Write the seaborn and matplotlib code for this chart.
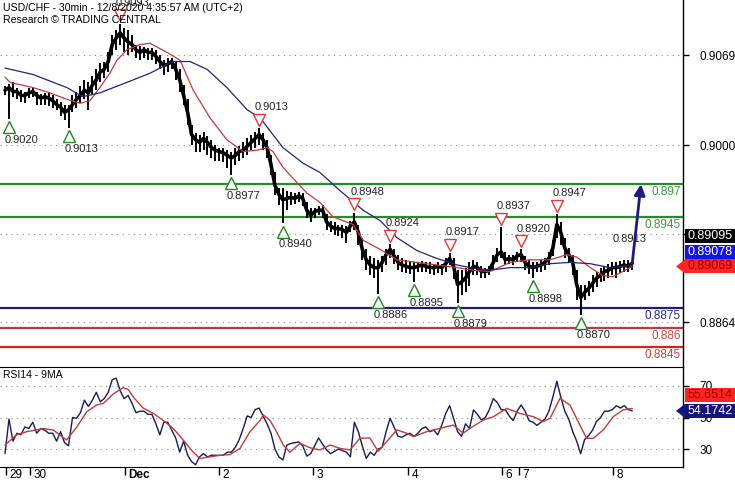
import numpy as np
import pandas as pd
import matplotlib
matplotlib.use("Agg")
import matplotlib.pyplot as plt
import seaborn as sns
from matplotlib.transforms import offset_copy, blended_transform_factory
from matplotlib.patches import Polygon

sns.set_style("white")
plt.rcParams["font.family"] = ["Liberation Sans", "DejaVu Sans"]

# ---------------- data (hourly bars, index = bar number) ----------------
close = [
    0.9042, 0.9044, 0.9041, 0.9041, 0.9038, 0.9038, 0.9040, 0.9041, 0.9038, 0.9036,
    0.9037, 0.9036, 0.9034, 0.9031, 0.9029, 0.9025, 0.9027, 0.9031, 0.9035, 0.9038,
    0.9042, 0.9040, 0.9046, 0.9050, 0.9056, 0.9058, 0.9064, 0.9077, 0.9082, 0.9086,
    0.9082, 0.9079, 0.9077, 0.9073, 0.9071, 0.9073, 0.9071, 0.9071, 0.9068, 0.9064,
    0.9061, 0.9062, 0.9064, 0.9058, 0.9050, 0.9038, 0.9025, 0.9008, 0.9004, 0.9002,
    0.9005, 0.9002, 0.8998, 0.8996, 0.8995, 0.8994, 0.8992, 0.8990, 0.8992, 0.8995,
    0.8996, 0.8999, 0.9002, 0.9005, 0.9008, 0.9004, 0.8998, 0.8985, 0.8969, 0.8962,
    0.8958, 0.8959, 0.8960, 0.8959, 0.8961, 0.8959, 0.8950, 0.8946, 0.8949, 0.8950,
    0.8950, 0.8941, 0.8938, 0.8936, 0.8936, 0.8935, 0.8933, 0.8938, 0.8941, 0.8933,
    0.8920, 0.8912, 0.8908, 0.8906, 0.8906, 0.8910, 0.8916, 0.8920, 0.8915, 0.8910,
    0.8908, 0.8907, 0.8906, 0.8906, 0.8907, 0.8908, 0.8907, 0.8906, 0.8906, 0.8907,
    0.8906, 0.8909, 0.8913, 0.8907, 0.8893, 0.8895, 0.8898, 0.8903, 0.8907, 0.8906,
    0.8903, 0.8903, 0.8904, 0.8910, 0.8916, 0.8918, 0.8912, 0.8913, 0.8912, 0.8915,
    0.8916, 0.8910, 0.8907, 0.8906, 0.8907, 0.8908, 0.8910, 0.8913, 0.8921, 0.8939,
    0.8933, 0.8921, 0.8916, 0.8910, 0.8893, 0.8883, 0.8887, 0.8890, 0.8894, 0.8898,
    0.8900, 0.8903, 0.8904, 0.8906, 0.8906, 0.8907, 0.8908, 0.8907, 0.89095,
]
high = [
    0.9045, 0.9047, 0.9048, 0.9044, 0.9042, 0.9041, 0.9044, 0.9044, 0.9041, 0.9039,
    0.9040, 0.9040, 0.9038, 0.9035, 0.9033, 0.9031, 0.9031, 0.9038, 0.9041, 0.9045,
    0.9050, 0.9048, 0.9053, 0.9058, 0.9063, 0.9064, 0.9071, 0.9084, 0.9088, 0.9093,
    0.9090, 0.9088, 0.9084, 0.9077, 0.9076, 0.9075, 0.9074, 0.9074, 0.9073, 0.9069,
    0.9065, 0.9067, 0.9067, 0.9064, 0.9058, 0.9046, 0.9035, 0.9015, 0.9009, 0.9008,
    0.9010, 0.9007, 0.9004, 0.9000, 0.8998, 0.8998, 0.8996, 0.8995, 0.8998, 0.8999,
    0.9002, 0.9005, 0.9008, 0.9010, 0.9013, 0.9009, 0.9004, 0.8992, 0.8979, 0.8967,
    0.8967, 0.8965, 0.8964, 0.8963, 0.8964, 0.8963, 0.8956, 0.8952, 0.8952, 0.8953,
    0.8954, 0.8947, 0.8942, 0.8941, 0.8939, 0.8939, 0.8938, 0.8942, 0.8948, 0.8939,
    0.8929, 0.8920, 0.8915, 0.8913, 0.8912, 0.8915, 0.8920, 0.8924, 0.8920, 0.8916,
    0.8913, 0.8912, 0.8910, 0.8910, 0.8910, 0.8911, 0.8910, 0.8910, 0.8909, 0.8910,
    0.8909, 0.8913, 0.8917, 0.8913, 0.8904, 0.8904, 0.8906, 0.8910, 0.8912, 0.8910,
    0.8907, 0.8906, 0.8907, 0.8916, 0.8921, 0.8937, 0.8918, 0.8916, 0.8916, 0.8918,
    0.8920, 0.8915, 0.8912, 0.8910, 0.8910, 0.8912, 0.8913, 0.8918, 0.8927, 0.8947,
    0.8941, 0.8929, 0.8921, 0.8916, 0.8904, 0.8893, 0.8893, 0.8896, 0.8900, 0.8903,
    0.8906, 0.8907, 0.8909, 0.8910, 0.8910, 0.8911, 0.8912, 0.8912, 0.8911,
]
low = [
    0.9038, 0.9020, 0.9037, 0.9035, 0.9033, 0.9032, 0.9036, 0.9037, 0.9031, 0.9031,
    0.9031, 0.9030, 0.9028, 0.9027, 0.9022, 0.9019, 0.9013, 0.9025, 0.9028, 0.9032,
    0.9035, 0.9027, 0.9038, 0.9042, 0.9048, 0.9051, 0.9056, 0.9069, 0.9073, 0.9077,
    0.9071, 0.9069, 0.9071, 0.9067, 0.9065, 0.9067, 0.9065, 0.9065, 0.9062, 0.9058,
    0.9054, 0.9056, 0.9058, 0.9050, 0.9041, 0.9031, 0.9015, 0.9000, 0.8995, 0.8995,
    0.8996, 0.8992, 0.8990, 0.8988, 0.8988, 0.8987, 0.8982, 0.8977, 0.8985, 0.8988,
    0.8990, 0.8992, 0.8996, 0.8998, 0.9000, 0.8996, 0.8990, 0.8977, 0.8962, 0.8954,
    0.8940, 0.8950, 0.8954, 0.8955, 0.8956, 0.8953, 0.8944, 0.8941, 0.8944, 0.8946,
    0.8944, 0.8935, 0.8933, 0.8931, 0.8930, 0.8929, 0.8925, 0.8933, 0.8935, 0.8923,
    0.8912, 0.8904, 0.8900, 0.8898, 0.8886, 0.8903, 0.8908, 0.8913, 0.8909, 0.8904,
    0.8903, 0.8902, 0.8901, 0.8895, 0.8903, 0.8903, 0.8903, 0.8901, 0.8900, 0.8902,
    0.8900, 0.8903, 0.8908, 0.8897, 0.8879, 0.8885, 0.8887, 0.8892, 0.8900, 0.8900,
    0.8898, 0.8898, 0.8900, 0.8904, 0.8910, 0.8913, 0.8908, 0.8909, 0.8908, 0.8910,
    0.8910, 0.8904, 0.8901, 0.8898, 0.8903, 0.8903, 0.8904, 0.8908, 0.8915, 0.8929,
    0.8923, 0.8913, 0.8910, 0.8900, 0.8881, 0.8870, 0.8881, 0.8884, 0.8887, 0.8891,
    0.8895, 0.8896, 0.8898, 0.8900, 0.8898, 0.8902, 0.8903, 0.8903, 0.8904,
]

ma_fast_t = [0, 1.3, 7.1, 11.3, 15.6, 18.9, 21.4, 23.9, 26.4, 28.2, 30.7, 34.0, 36.5,
             40.8, 44.1, 47.4, 51.6, 55.9, 60.0, 63.5, 66.0, 67.5, 70.0, 73.6, 76.1,
             79.3, 82.6, 87.7, 90.2, 94.5, 98.7, 103.8, 108.8, 113.9, 117.9, 122.2,
             127.2, 132.2, 137.3, 141.6, 144.1, 147.4, 150.6, 153.1, 155.6, 158.0]
ma_fast = [0.9052, 0.9048, 0.9044, 0.9040, 0.9035, 0.9032, 0.9034, 0.9044, 0.9055,
           0.9065, 0.9073, 0.9077, 0.9078, 0.9071, 0.9065, 0.9042, 0.9021, 0.9004,
           0.8995, 0.8996, 0.8998, 0.8995, 0.8983, 0.8971, 0.8963, 0.8956, 0.8945,
           0.8939, 0.8927, 0.8920, 0.8912, 0.8910, 0.8908, 0.8906, 0.8904, 0.8903,
           0.8910, 0.8912, 0.8912, 0.8916, 0.8914, 0.8906, 0.8900, 0.8899, 0.8903,
           0.89069]
ma_slow_t = [0, 7.1, 15.6, 19.6, 23.9, 30.7, 36.5, 42.3, 46.6, 50.9, 55.9, 61.0, 64.2,
             70.0, 75.1, 79.3, 84.4, 90.2, 94.5, 98.7, 103.8, 108.8, 113.9, 117.1,
             122.2, 127.2, 132.2, 137.3, 142.3, 147.4, 152.4, 158.0]
ma_slow = [0.9059, 0.9054, 0.9044, 0.9037, 0.9040, 0.9048, 0.9055, 0.9064, 0.9064,
           0.9058, 0.9044, 0.9027, 0.9021, 0.8998, 0.8986, 0.8979, 0.8965, 0.8950,
           0.8942, 0.8929, 0.8919, 0.8913, 0.8908, 0.8906, 0.8904, 0.8906, 0.8906,
           0.8909, 0.8910, 0.8909, 0.8906, 0.89078]

rsi = [
    27, 49, 35, 40, 39, 44, 43, 47, 40, 43,
    42, 40, 40, 35, 41, 34, 32, 50, 49.5, 53,
    61, 57, 61, 66, 60, 62, 66, 74, 75, 67,
    62, 64, 59, 53, 54, 54, 52, 52, 46, 39,
    47, 47, 42, 37, 28, 35, 26, 22, 20, 25,
    27, 25, 26, 26, 26, 26, 28, 28, 31, 36,
    43, 51, 50, 55, 56, 51, 46, 40, 30, 25,
    23, 32.5, 33.5, 34, 34.5, 32, 25.5, 27, 32, 37,
    33, 29.5, 27, 28.5, 30, 29, 28, 25, 47, 41,
    32, 24, 28, 26, 30, 31, 41, 49.5, 44, 38,
    37.5, 39, 40, 38, 40, 43, 44, 41, 42, 39,
    45, 52.5, 57.5, 49.5, 41, 38, 46, 43, 54.8, 52,
    48.5, 50, 55, 62, 59.5, 55, 55, 51, 48, 54,
    58, 54, 48, 47, 45, 47, 49, 54, 63, 73,
    63, 54, 49, 41, 35, 27, 36, 38.5, 42, 47.5,
    50, 54, 54, 55, 57.5, 56, 57.5, 55, 54.1742,
]
rsi_ma_t = [0, 2.9, 5.5, 9.7, 12.2, 15.5, 18.1, 20.6, 23.1, 24.8, 27.3, 29.8, 31.1, 32.3,
            34.8, 37.4, 39.9, 42.4, 44.9, 47.4, 49.1, 51.6, 54.2, 56.7, 59.2, 61.7,
            64.2, 65.1, 66.8, 68.4, 70.1, 71.8, 74.3, 76.8, 79.3, 81.9, 84.4, 86.9,
            89.4, 91.9, 94.0, 98.7, 101.2, 102.9, 106.2, 109.6, 112.9, 115.4, 117.1,
            120.5, 123.0, 126.4, 129.7, 133.1, 135.6, 137.3, 139.8, 142.3, 144.8,
            146.5, 148.2, 150.7, 153.2, 155.7, 157.4, 158.0]
rsi_ma = [32.5, 39, 41, 43, 42, 35.7, 44, 53.7, 58, 59, 65, 69, 67.6, 63, 56, 52.6,
          48, 43, 35.7, 28, 24, 25, 26, 26.5, 30.4, 41, 48, 51.6, 48, 41, 32.5, 28,
          33.6, 30.8, 29.4, 32.5, 30.4, 29.4, 36.8, 37, 28.5, 42.1, 40, 37.8, 41,
          43.1, 45.2, 40, 43.1, 48.4, 50.5, 55.8, 52.6, 50.5, 47.4, 49.5, 62.2, 57.9,
          45.2, 36.8, 36.8, 42.1, 50.5, 54.8, 55.6, 55.6514]

low_marks_t = [1, 16, 57, 70, 94, 103, 114, 133, 145]
low_marks_v = [0.9020, 0.9013, 0.8977, 0.8940, 0.8886, 0.8895, 0.8879, 0.8898, 0.8870]
high_marks_t = [29, 64, 88, 97, 112, 125, 130, 139]
high_marks_v = [0.9093, 0.9013, 0.8948, 0.8924, 0.8917, 0.8937, 0.8920, 0.8947]

levels = [0.897, 0.8945, 0.8875, 0.886, 0.8845]
level_labels = ["0.897", "0.8945", "0.8875", "0.886", "0.8845"]
target_price = 0.897
pivot_label = 0.8913

price_ticks = [0.9069, 0.9000, 0.8932, 0.8864]
rsi_ticks = [30, 50, 70]
day_ticks = [0.25, 6.3, 30.2, 53.9, 77.6, 101.5, 125.2, 129.5, 153.1]
day_labels = ["29", "30", "Dec", "2", "3", "4", "6", "7", "8"]

last_price, last_fast, last_slow = 0.89095, 0.89078, 0.89069
last_rsi, last_rsi_ma = 54.1742, 55.6514

title = "USD/CHF - 30min - 12/8/2020 4:35:57 AM (UTC+2)"
subtitle = "Research \u00a9 TRADING CENTRAL"

# ---------------- figure ----------------
W, H = 735, 480
fig = plt.figure(figsize=(W / 100, H / 100), dpi=100)
fig.patch.set_facecolor("white")

def box(l, t, w, h):
    return [l / W, 1 - (t + h) / H, w / W, h / H]

ax = fig.add_axes(box(0, 0, 683, 366))
ax2 = fig.add_axes(box(0, 367, 683, 100))

bars = np.arange(len(close))
x0, step = 5, 3.97
xlim = ((0 - x0) / step, (683 - x0) / step)

GREEN, NAVY, DRED, RED = "#2b8a2b", "#1c1c7a", "#b83a3a", "#e21c1c"
FS = 8

for a in (ax, ax2):
    a.set_xlim(*xlim)
    for s in ("left", "top", "bottom"):
        a.spines[s].set_visible(False)
    a.spines["right"].set_color("black")
    a.spines["right"].set_linewidth(1.0)
    a.yaxis.tick_right()
    a.tick_params(axis="y", direction="out", length=4, width=1, pad=8,
                  labelsize=8.5, colors="black", left=False, right=True)
    a.yaxis.grid(True, linestyle=(0, (1, 4)), color="#8c8c8c", linewidth=0.8)
    a.xaxis.grid(False)
    a.set_facecolor("white")

ax.set_ylim(0.9 - 221 / 13043, 0.9 + 145 / 13043)
ax.set_yticks(price_ticks)
ax.set_yticklabels([f"{v:.4f}" for v in price_ticks])
ax.set_xticks([])
ax.set_xlabel("")
ax.set_ylabel("")

ax2.spines["top"].set_visible(True)
ax2.spines["bottom"].set_visible(True)
ax2.spines["top"].set_color("black")
ax2.spines["bottom"].set_color("black")
ax2.set_ylim(70 - 81 / 1.575, 70 + 19 / 1.575)
ax2.set_yticks(rsi_ticks)
ax2.set_yticklabels([str(v) for v in rsi_ticks])
ax2.set_xticks(day_ticks)
ax2.set_xticklabels([""] * len(day_ticks))
ax2.tick_params(axis="x", direction="out", length=6, width=1, bottom=True, colors="black")

# level lines
level_colors = [GREEN, GREEN, NAVY, DRED, RED]
level_text = ["#3d9c3d", "#3d9c3d", "#2a2aa0", "#c84848", "#e03a3a"]
for lv, lab, c, tc in zip(levels, level_labels, level_colors, level_text):
    ax.axhline(lv, color=c, lw=1.6, zorder=2)
    ax.annotate(lab, xy=(681 / 683, lv), xycoords=("axes fraction", "data"),
                xytext=(0, -1.5), textcoords="offset points", ha="right", va="top",
                fontsize=8.5, color=tc, zorder=5)

# price bars
ax.vlines(bars, low, high, color="black", lw=1.4, zorder=3)
sns.lineplot(x=bars, y=close, ax=ax, color="black", lw=2.6, zorder=4, legend=False)
sns.lineplot(x=ma_fast_t, y=ma_fast, ax=ax, color="#c43a3a", lw=0.9, zorder=5, legend=False)
sns.lineplot(x=ma_slow_t, y=ma_slow, ax=ax, color="#23237e", lw=0.9, zorder=5, legend=False)

# swing markers
tr_dn = offset_copy(ax.transData, fig=fig, x=0, y=-6, units="points")
tr_up = offset_copy(ax.transData, fig=fig, x=0, y=6, units="points")
ax.plot(low_marks_t, low_marks_v, ls="none", marker="^", ms=8, mfc="white",
        mec="#1e8a1e", mew=1.0, transform=tr_dn, zorder=6, clip_on=False)
ax.plot(high_marks_t, high_marks_v, ls="none", marker="v", ms=8, mfc="white",
        mec="#e0383a", mew=1.0, transform=tr_up, zorder=6, clip_on=False)
for t, v in zip(low_marks_t, low_marks_v):
    ax.annotate(f"{v:.4f}", xy=(t, v), xytext=(-3, -15), textcoords="offset points",
                ha="left", va="center", fontsize=FS, color="#222222", zorder=6)
for t, v in zip(high_marks_t, high_marks_v):
    ax.annotate(f"{v:.4f}", xy=(t, v), xytext=(-3, 15), textcoords="offset points",
                ha="left", va="center", fontsize=FS, color="#222222", zorder=6,
                annotation_clip=False)

# projection arrow
ax.annotate("", xy=(bars[-1] + 2.2, target_price), xytext=(bars[-1], close[-1]),
            arrowprops=dict(arrowstyle="-|>", color=NAVY, lw=2, mutation_scale=16,
                            shrinkA=0, shrinkB=0), zorder=7)
ax.annotate(f"{pivot_label:.4f}", xy=(bars[-1] - 5, pivot_label), xytext=(0, 14),
            textcoords="offset points", ha="left", va="center", fontsize=FS,
            color="#222222", zorder=6)

# RSI panel
sns.lineplot(x=bars, y=rsi, ax=ax2, color="#1a1a55", lw=1.0, zorder=3, legend=False)
sns.lineplot(x=rsi_ma_t, y=rsi_ma, ax=ax2, color="#c43a3a", lw=1.0, zorder=4, legend=False)
ax2.set_xlabel("")
ax2.set_ylabel("")

btr = blended_transform_factory(ax2.transData, ax2.transAxes)
for t, lab in zip(day_ticks, day_labels):
    ax2.text(t, -0.08, lab, transform=offset_copy(btr, fig=fig, x=2.5, y=0, units="points"),
             ha="left", va="center", fontsize=8.5,
             fontweight="bold" if lab == "Dec" else "normal", color="black", clip_on=False)

# titles
fig.text(3 / W, 1 - 8 / H, title, ha="left", va="center", fontsize=7.6, color="black")
fig.text(3 / W, 1 - 20 / H, subtitle, ha="left", va="center", fontsize=7.6, color="black")
fig.text(3 / W, 1 - 375 / H, "RSI14 - 9MA", ha="left", va="center", fontsize=7.5, color="black")

# right-side value boxes
def value_box(text, y_px, fc, tc, arrow=False):
    yf = 1 - y_px / H
    fig.patches.append(plt.Rectangle((685 / W, 1 - (y_px + 7) / H), 52 / W, 14 / H,
                                     transform=fig.transFigure, fc=fc, ec="none", zorder=8))
    if arrow:
        fig.patches.append(Polygon([(685 / W, 1 - (y_px - 7) / H), (676 / W, yf),
                                    (685 / W, 1 - (y_px + 7) / H)], closed=True,
                                   transform=fig.transFigure, fc=fc, ec="none", zorder=8))
    fig.text(688 / W, yf, text, ha="left", va="center", fontsize=9, color=tc, zorder=9)

def y_px_of(a, v):
    return H - a.transData.transform((0, v))[1]

y_red = y_px_of(ax, last_slow)
value_box(f"{last_price:.5f}", y_red - 30, "black", "white")
value_box(f"{last_fast:.5f}", y_red - 14.5, "#1414e6", "white")
value_box(f"{last_slow:.5f}", y_red, "#ff2424", "#a00000", arrow=True)

y_rsi = y_px_of(ax2, last_rsi)
value_box(f"{last_rsi_ma:.4f}", y_rsi - 16, "#ff2424", "#a00000")
value_box(f"{last_rsi:.4f}", y_rsi, "#14147a", "white", arrow=True)

fig.savefig("out.png", dpi=100, facecolor="white")
